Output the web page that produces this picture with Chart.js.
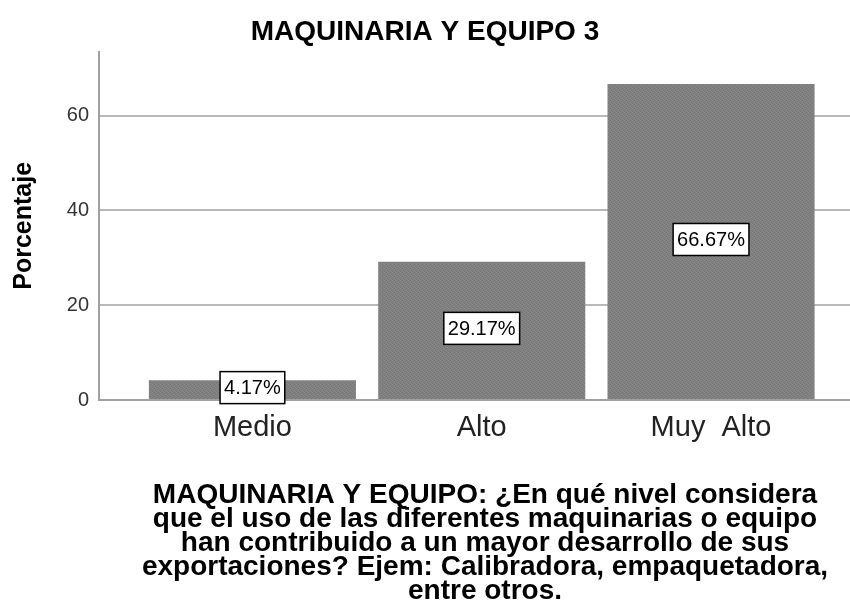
<!DOCTYPE html>
<html>
<head>
<meta charset="utf-8">
<script src="https://cdn.jsdelivr.net/npm/chart.js@4.4.0/dist/chart.umd.min.js"></script>
<style>
    html, body { margin: 0; padding: 0; background: #fff; }
    #wrap { width: 850px; height: 616px; }
</style>
</head>
<body>
<div id="wrap"><canvas id="myChart" width="850" height="616"></canvas></div>
<script>
// chart data
const categories = ['Medio', 'Alto', 'Muy  Alto'];
const percentages = [4.17, 29.17, 66.67];
const yTicks = [0, 20, 40, 60];
const chartTitle = 'MAQUINARIA Y EQUIPO 3';
const yTitle = 'Porcentaje';
const captionLines = [
    'MAQUINARIA Y EQUIPO: ¿En qué nivel considera',
    'que el uso de las diferentes maquinarias o equipo',
    'han contribuido a un mayor desarrollo de sus',
    'exportaciones? Ejem: Calibradora, empaquetadora,',
    'entre otros.'
];

const FONT = '"Liberation Sans", Arial, sans-serif';

// small grey texture for the bars, like the SPSS fill
function barPattern() {
    const c = document.createElement('canvas');
    c.width = 4; c.height = 4;
    const g = c.getContext('2d');
    g.fillStyle = '#808080';
    g.fillRect(0, 0, 4, 4);
    g.fillStyle = '#888888';
    g.fillRect(0, 0, 1, 1); g.fillRect(2, 1, 1, 1); g.fillRect(1, 2, 1, 1); g.fillRect(3, 3, 1, 1);
    g.fillStyle = '#787878';
    g.fillRect(2, 0, 1, 1); g.fillRect(0, 3, 1, 1); g.fillRect(3, 2, 1, 1); g.fillRect(1, 1, 1, 1);
    return g.createPattern(c, 'repeat');
}

// boxed percentage labels in the middle of each bar
const barLabels = {
    id: 'barLabels',
    afterDatasetsDraw(chart) {
        const ctx = chart.ctx;
        const meta = chart.getDatasetMeta(0);
        ctx.save();
        ctx.font = '20px ' + FONT;
        ctx.textAlign = 'center';
        ctx.textBaseline = 'middle';
        meta.data.forEach(function (bar, i) {
            const txt = percentages[i].toFixed(2) + '%';
            const cy = (bar.y + bar.base) / 2 - 2;
            const w = ctx.measureText(txt).width + 8;
            const h = 32;
            ctx.fillStyle = '#fff';
            ctx.fillRect(bar.x - w / 2, cy - h / 2, w, h);
            ctx.strokeStyle = '#000';
            ctx.lineWidth = 1.5;
            ctx.strokeRect(bar.x - w / 2, cy - h / 2, w, h);
            ctx.fillStyle = '#000';
            ctx.fillText(txt, bar.x, cy + 1);
        });
        ctx.restore();
    }
};

// long question text under the x axis
const caption = {
    id: 'caption',
    afterDraw(chart) {
        const ctx = chart.ctx;
        ctx.save();
        ctx.font = 'bold 28px ' + FONT;
        ctx.fillStyle = '#000';
        ctx.textAlign = 'center';
        ctx.textBaseline = 'middle';
        captionLines.forEach(function (line, i) {
            ctx.fillText(line, 485, 495 + i * 24);
        });
        ctx.restore();
    }
};

var ctx = document.getElementById('myChart').getContext('2d');
var chart = new Chart(ctx, {
    type: 'bar',
    data: {
        datasets: [{
            label: yTitle,
            data: percentages.map(function (v, i) { return { x: i, y: v }; }),
            backgroundColor: barPattern(),
            borderWidth: 0,
            barPercentage: 0.903,
            categoryPercentage: 1
        }]
    },
    options: {
        responsive: false,
        animation: false,
        devicePixelRatio: 1,
        layout: { padding: 0 },
        plugins: {
            legend: { display: false },
            tooltip: { enabled: false },
            title: {
                display: true,
                text: chartTitle,
                color: '#000',
                font: { family: FONT, size: 28, weight: 'bold' },
                padding: { top: 15, bottom: 3 }
            }
        },
        scales: {
            x: {
                type: 'linear',
                min: -0.669,
                max: 2.606,
                offset: false,
                afterBuildTicks: function (s) { s.ticks = categories.map(function (c, i) { return { value: i }; }); },
                afterFit: function (s) { s.height = 216; },
                ticks: {
                    autoSkip: false,
                    maxRotation: 0,
                    padding: 11,
                    color: '#222',
                    font: { family: FONT, size: 29 },
                    callback: function (v) { return categories[v] !== undefined ? categories[v] : ''; }
                },
                grid: { display: false, drawTicks: false },
                border: { display: true, color: '#a0a0a0', width: 2 }
            },
            y: {
                min: 0,
                max: 73.5,
                afterBuildTicks: function (s) { s.ticks = yTicks.map(function (v) { return { value: v }; }); },
                afterFit: function (s) { s.width = 99; },
                ticks: {
                    padding: 10,
                    color: '#333',
                    font: { family: FONT, size: 20 }
                },
                grid: {
                    drawTicks: false,
                    lineWidth: 2,
                    color: function (c) { return c.tick && c.tick.value === 0 ? 'rgba(0,0,0,0)' : '#b8b8b8'; }
                },
                border: { display: true, color: '#a0a0a0', width: 2 },
                title: {
                    display: true,
                    text: yTitle,
                    color: '#000',
                    font: { family: FONT, size: 25, weight: 'bold' },
                    padding: { top: 9, bottom: 0 }
                }
            }
        }
    },
    plugins: [barLabels, caption]
});
</script>
</body>
</html>
